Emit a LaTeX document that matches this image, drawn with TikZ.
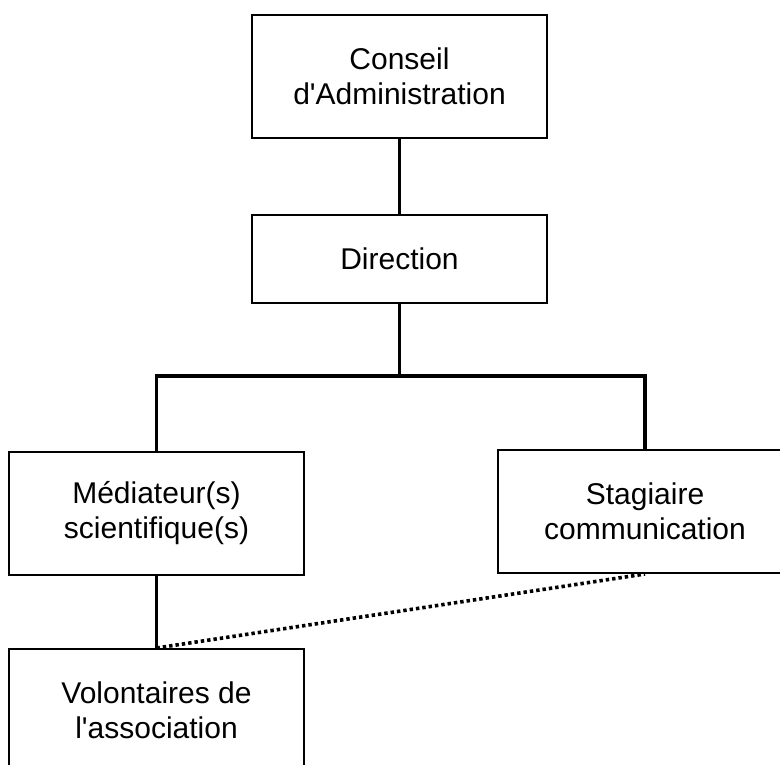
\documentclass[tikz,border=0pt]{standalone}
\usepackage{fontspec}
\setmainfont{Liberation Sans}
\begin{document}
\begin{tikzpicture}[x=1pt,y=-1pt,
  orgbox/.style={draw, line width=2pt, rectangle, align=center, inner sep=0pt,
    font=\fontsize{30}{35}\selectfont, minimum width=295pt, minimum height=123pt},
  link/.style={line width=3.6pt, line join=miter},
  dotlink/.style={line width=3.6pt, dash pattern=on 3.4pt off 3pt}]
\useasboundingbox (0,0) rectangle (780,765);
\clip (0,0) rectangle (780,765);
\fill[white] (0,0) rectangle (780,765);
\node[orgbox] (conseil) at (399.5,76.5) {Conseil\\d\textquotesingle Administration};
\node[orgbox, minimum height=88pt] (direction) at (399.5,259) {Direction};
\node[orgbox] (med) at (156.5,513.5) {Médiateur(s)\\scientifique(s)};
\node[orgbox] (stag) at (645,511.5) {Stagiaire\\communication};
\node[orgbox, minimum height=122pt] (vol) at (156.5,710) {Volontaires de\\l\textquotesingle association};
\coordinate (bus) at (399.5,376);
\draw[link] (conseil.south) -- (direction.north);
\draw[link] (direction.south) -- (bus);
\draw[link] (med.north) |- (bus) -| (stag.north);
\draw[link] (med.south) -- (vol.north);
\draw[dotlink] (vol.north) -- (stag.south);
\end{tikzpicture}
\end{document}
